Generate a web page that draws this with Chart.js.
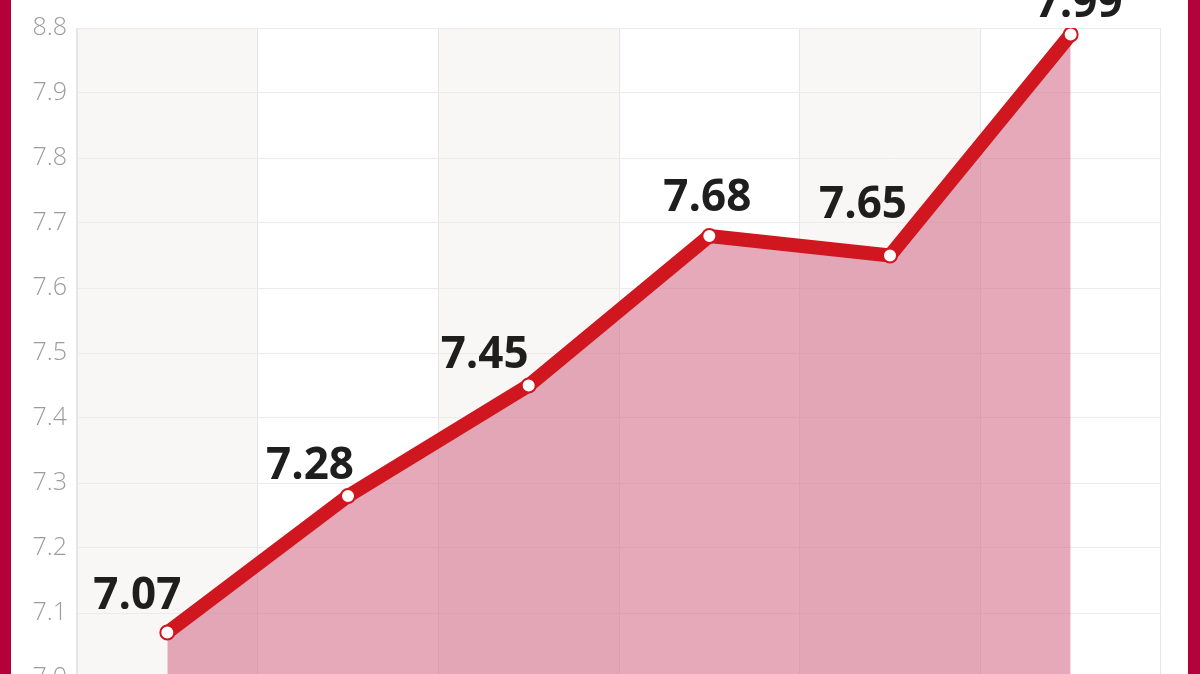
<!DOCTYPE html>
<html>
<head>
<meta charset="utf-8">
<script src="https://cdn.jsdelivr.net/npm/chart.js@4.4.1/dist/chart.umd.min.js"></script>
<style>
    html, body { margin: 0; padding: 0; background: #fff; overflow: hidden; }
    #wrap { position: absolute; left: 0; top: 0; width: 1200px; height: 674px; overflow: hidden; background: #fff; }
    .barra { position: absolute; top: 0; height: 674px; background: #b4003b; }
    #izq { left: 0; width: 11px; }
    #der { left: 1188px; width: 12px; }
    #caja { position: absolute; left: 11px; top: 0; width: 1177px; height: 720px; }
</style>
</head>
<body>
<div id="wrap">
    <div class="barra" id="izq"></div>
    <div class="barra" id="der"></div>
    <div id="caja"><canvas id="grafica"></canvas></div>
</div>
<script>
// Datos
const categorias = ['1', '2', '3', '4', '5', '6'];
const valores = [7.07, 7.28, 7.45, 7.68, 7.65, 7.99];
const etiquetasY = ['7.0', '7.1', '7.2', '7.3', '7.4', '7.5', '7.6', '7.7', '7.8', '7.9', '8.8'];

// Desplazamiento de cada etiqueta respecto a su punto (px)
const desplazamientos = [[-30, -36], [-38, -30], [-44, -30], [-2, -38], [-27, -50], [8, -30]];

// Franjas alternas de fondo por columna
const franjas = {
    id: 'franjas',
    beforeDraw(chart) {
        const { ctx, chartArea, scales } = chart;
        const x = scales.x;
        const ancho = x.getPixelForValue(1) - x.getPixelForValue(0);
        ctx.save();
        ctx.fillStyle = '#f9f7f5';
        categorias.forEach((c, i) => {
            if (i % 2 === 0) {
                const cx = x.getPixelForValue(i);
                ctx.fillRect(cx - ancho / 2, chartArea.top, ancho, chartArea.bottom - chartArea.top);
            }
        });
        ctx.restore();
    }
};

// Etiquetas con el valor encima de cada punto
const etiquetas = {
    id: 'etiquetas',
    afterDatasetsDraw(chart) {
        const { ctx } = chart;
        const meta = chart.getDatasetMeta(0);
        ctx.save();
        ctx.font = '700 44px "Open Sans"';
        ctx.fillStyle = '#1e1e1e';
        ctx.textAlign = 'center';
        ctx.textBaseline = 'middle';
        meta.data.forEach((p, i) => {
            const d = desplazamientos[i];
            ctx.fillText(valores[i].toFixed(2), p.x + d[0], p.y + d[1]);
        });
        ctx.restore();
    }
};

new Chart(document.getElementById('grafica'), {
    type: 'line',
    data: {
        labels: categorias,
        datasets: [{
            data: valores,
            borderColor: '#d0171f',
            borderWidth: 14,
            borderJoinStyle: 'round',
            borderCapStyle: 'round',
            backgroundColor: 'rgba(212, 112, 140, 0.6)',
            fill: 'start',
            tension: 0,
            pointRadius: 7,
            pointBorderWidth: 2,
            pointBackgroundColor: '#ffffff',
            pointBorderColor: '#d0171f'
        }]
    },
    options: {
        responsive: true,
        maintainAspectRatio: false,
        animation: false,
        layout: { padding: { left: 0, right: 27, top: 28, bottom: 42 } },
        plugins: { legend: { display: false }, tooltip: { enabled: false } },
        scales: {
            x: {
                offset: true,
                grid: { offset: true, color: '#e6e6e6', drawTicks: false },
                border: { display: false },
                ticks: { display: false }
            },
            y: {
                min: 7.0,
                max: 8.0,
                afterFit(scale) { scale.width = 66; },
                grid: { color: '#ebebeb', drawTicks: false },
                border: { display: true, color: '#e6e6e6' },
                ticks: {
                    stepSize: 0.1,
                    padding: 10,
                    color: '#9c9c9c',
                    font: { family: 'Open Sans', size: 25, weight: 300 },
                    callback: (v, i) => etiquetasY[i]
                }
            }
        }
    },
    plugins: [franjas, etiquetas]
});
</script>
</body>
</html>
